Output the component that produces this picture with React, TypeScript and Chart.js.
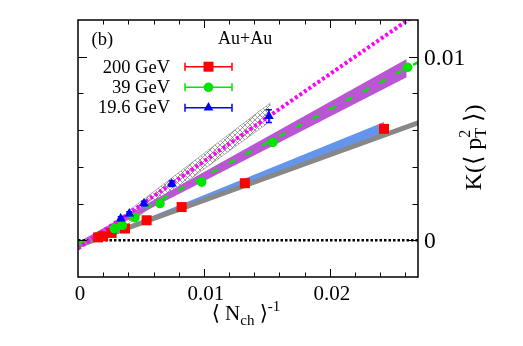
import React, { useEffect, useRef } from 'react';
import { Chart, registerables } from 'chart.js';

Chart.register(...registerables);

// ---- axis ranges & ticks ----
const X_MIN = 0;
const X_MAX = 0.027;
const Y_MIN = -0.002;
const Y_MAX = 0.012;
const X_TICKS = [0.002, 0.004, 0.006, 0.008, 0.01, 0.012, 0.014, 0.016, 0.018, 0.02, 0.022, 0.024, 0.026];
const X_MAJOR = [0, 0.01, 0.02];
const X_LABELS = ['0', '0.01', '0.02'];
const Y_TICKS = [0, 0.002, 0.004, 0.006, 0.008, 0.01];
const Y_MAJOR = [0, 0.01];
const Y_LABELS = ['0', '0.01'];

// ---- data: 200 GeV (red squares) ----
const AU200_X = [0.0016, 0.002, 0.00267, 0.00373, 0.00545, 0.00823, 0.01325, 0.0243];
const AU200_Y = [0.00016, 0.00022, 0.0004, 0.00064, 0.00109, 0.00181, 0.00311, 0.00607];
// ---- 39 GeV (green circles) ----
const AU39_X = [0.00288, 0.00352, 0.00452, 0.00651, 0.00982, 0.01548, 0.02617];
const AU39_Y = [0.00064, 0.00082, 0.00123, 0.002, 0.00317, 0.00534, 0.00942];
// ---- 19.6 GeV (blue triangles) ----
const AU196_X = [0.00339, 0.00407, 0.00524, 0.00744, 0.01516];
const AU196_Y = [0.00118, 0.00145, 0.002, 0.00308, 0.00676];
const AU196_ERR = [0.0001, 0.0001, 0.00012, 0.00015, 0.00035];

// ---- fit lines ----
const FIT200_X = [0, 0.027];
const FIT200_Y = [-0.0003, 0.0064];
const FIT39_X = [0, 0.027];
const FIT39_Y = [-0.0002, 0.0097];
const FIT196_X = [0, 0.027];
const FIT196_Y = [-0.00045, 0.01238];
const ZERO_X = [0, 0.027];
const ZERO_Y = [0, 0];

// ---- bands ----
const BAND200_X = [0.0015, 0.0243];
const BAND200_LO = [0.00007, 0.0058];
const BAND200_HI = [0.0001, 0.00645];
const BAND39_X = [0.0005, 0.0261];
const BAND39_LO = [-0.00012, 0.00888];
const BAND39_HI = [0.00009, 0.00988];
const HATCH_X = [0.004, 0.0153];
const HATCH_LO = [0.0009, 0.0065];
const HATCH_HI = [0.0016, 0.0075];

// ---- legend ----
const LEGEND_LABELS = ['200 GeV', '39 GeV', '19.6 GeV'];
const LEGEND_COLORS = ['#ff0000', '#00e600', '#0000ff'];
const LEGEND_SHAPES = ['square', 'circle', 'triangle'];

const RED = '#ff0000';
const GREEN = '#00e600';
const BLUE = '#0000ff';

const SERIF = '"Liberation Serif", "DejaVu Serif", serif';

const pts = (xs: number[], ys: number[]) => xs.map((x, i) => ({ x, y: ys[i] }));

type Seg = { t: string; size: number; dy?: number; hold?: boolean };

function drawRich(ctx: CanvasRenderingContext2D, segs: Seg[], x: number, y: number, align: 'left' | 'center' | 'right') {
  ctx.textAlign = 'left';
  ctx.textBaseline = 'alphabetic';
  let total = 0;
  let gm = 0;
  for (const s of segs) {
    ctx.font = `${s.size}px ${SERIF}`;
    gm = Math.max(gm, ctx.measureText(s.t).width);
    if (!s.hold) {
      total += gm;
      gm = 0;
    }
  }
  let cx = align === 'center' ? x - total / 2 : align === 'right' ? x - total : x;
  gm = 0;
  for (const s of segs) {
    ctx.font = `${s.size}px ${SERIF}`;
    ctx.fillText(s.t, cx, y + (s.dy || 0));
    gm = Math.max(gm, ctx.measureText(s.t).width);
    if (!s.hold) {
      cx += gm;
      gm = 0;
    }
  }
}

function drawMarker(ctx: CanvasRenderingContext2D, shape: string, x: number, y: number, color: string) {
  ctx.fillStyle = color;
  ctx.beginPath();
  if (shape === 'square') {
    ctx.rect(x - 5, y - 5, 10, 10);
  } else if (shape === 'circle') {
    ctx.arc(x, y, 4.8, 0, Math.PI * 2);
  } else {
    const r = 5.6;
    ctx.moveTo(x, y - r);
    ctx.lineTo(x + r * Math.sin((2 * Math.PI) / 3), y - r * Math.cos((2 * Math.PI) / 3));
    ctx.lineTo(x + r * Math.sin((4 * Math.PI) / 3), y - r * Math.cos((4 * Math.PI) / 3));
    ctx.closePath();
  }
  ctx.fill();
}

function makeHatch(): CanvasPattern | string {
  const c = document.createElement('canvas');
  c.width = 5;
  c.height = 5;
  const g = c.getContext('2d');
  if (!g) return 'rgba(150,150,150,0.3)';
  g.strokeStyle = 'rgba(110,110,110,0.85)';
  g.lineWidth = 0.8;
  g.beginPath();
  g.moveTo(0, 0);
  g.lineTo(5, 5);
  g.moveTo(5, 0);
  g.lineTo(0, 5);
  g.stroke();
  const p = g.createPattern(c, 'repeat');
  return p || 'rgba(150,150,150,0.3)';
}

const decorPlugin = {
  id: 'decor',
  afterDatasetsDraw(chart: any) {
    const ctx: CanvasRenderingContext2D = chart.ctx;
    const xs = chart.scales.x;
    const ys = chart.scales.y;
    // error bars for 19.6 GeV
    ctx.save();
    ctx.strokeStyle = BLUE;
    ctx.lineWidth = 1.5;
    AU196_X.forEach((xv, i) => {
      const px = xs.getPixelForValue(xv);
      const y1 = ys.getPixelForValue(AU196_Y[i] - AU196_ERR[i]);
      const y2 = ys.getPixelForValue(AU196_Y[i] + AU196_ERR[i]);
      ctx.beginPath();
      ctx.moveTo(px, y1);
      ctx.lineTo(px, y2);
      ctx.moveTo(px - 3, y1);
      ctx.lineTo(px + 3, y1);
      ctx.moveTo(px - 3, y2);
      ctx.lineTo(px + 3, y2);
      ctx.stroke();
    });
    ctx.restore();
  },
  afterDraw(chart: any) {
    const ctx: CanvasRenderingContext2D = chart.ctx;
    const xs = chart.scales.x;
    const ys = chart.scales.y;
    const a = chart.chartArea;
    ctx.save();
    // frame
    ctx.strokeStyle = '#000';
    ctx.lineWidth = 1.5;
    ctx.strokeRect(a.left, a.top, a.right - a.left, a.bottom - a.top);
    // x ticks (top & bottom, inward)
    ctx.lineWidth = 1;
    ctx.beginPath();
    X_TICKS.forEach((v) => {
      const px = Math.round(xs.getPixelForValue(v)) + 0.5;
      const len = X_MAJOR.includes(v) ? 8 : 4.5;
      ctx.moveTo(px, a.bottom);
      ctx.lineTo(px, a.bottom - len);
      ctx.moveTo(px, a.top);
      ctx.lineTo(px, a.top + len);
    });
    // y ticks (left & right, inward)
    Y_TICKS.forEach((v) => {
      const py = Math.round(ys.getPixelForValue(v)) + 0.5;
      const len = Y_MAJOR.includes(v) ? 9 : 5.5;
      ctx.moveTo(a.left, py);
      ctx.lineTo(a.left + len, py);
      ctx.moveTo(a.right, py);
      ctx.lineTo(a.right - len, py);
    });
    ctx.stroke();

    ctx.fillStyle = '#000';
    // bottom tick labels
    X_MAJOR.forEach((v, i) => {
      drawRich(ctx, [{ t: X_LABELS[i], size: 21 }], xs.getPixelForValue(v) + 2, a.bottom + 23, 'center');
    });
    // right tick labels
    Y_MAJOR.forEach((v, i) => {
      drawRich(ctx, [{ t: Y_LABELS[i], size: 23.5 }], a.right + 6, ys.getPixelForValue(v) + 8, 'left');
    });
    // x title
    drawRich(
      ctx,
      [
        { t: '\u27E8 N', size: 21 },
        { t: 'ch', size: 15, dy: 5 },
        { t: ' \u27E9', size: 21 },
        { t: '-1', size: 15, dy: -9 },
      ],
      (a.left + a.right) / 2 - 2,
      a.bottom + 43,
      'center'
    );
    // y title (rotated, on the right)
    ctx.save();
    ctx.translate(a.right + 55, (a.top + a.bottom) / 2 - 1);
    ctx.rotate(-Math.PI / 2);
    drawRich(
      ctx,
      [
        { t: 'K(\u27E8 ', size: 24 },
        { t: 'p', size: 24 },
        { t: '2', size: 16, dy: -11, hold: true },
        { t: 'T', size: 16, dy: 5 },
        { t: ' \u27E9)', size: 24 },
      ],
      0,
      8,
      'center'
    );
    ctx.restore();

    // annotations
    drawRich(ctx, [{ t: '(b)', size: 18.5 }], a.left + 13.5, 44.5, 'left');
    drawRich(ctx, [{ t: 'Au+Au', size: 18 }], 218, 43.5, 'left');

    // legend
    const rowY = [66.7, 87.3, 107.7];
    const baseY = [73.3, 93.3, 113.3];
    LEGEND_LABELS.forEach((lab, i) => {
      ctx.fillStyle = '#000';
      drawRich(ctx, [{ t: lab, size: 18.5 }], 170, baseY[i], 'right');
      const col = LEGEND_COLORS[i];
      ctx.strokeStyle = col;
      ctx.lineWidth = 1.5;
      ctx.beginPath();
      ctx.moveTo(185, rowY[i]);
      ctx.lineTo(232, rowY[i]);
      ctx.moveTo(185, rowY[i] - 4);
      ctx.lineTo(185, rowY[i] + 4);
      ctx.moveTo(232, rowY[i] - 4);
      ctx.lineTo(232, rowY[i] + 4);
      ctx.stroke();
      drawMarker(ctx, LEGEND_SHAPES[i], 208.5, rowY[i], col);
    });
    ctx.restore();
  },
};

export default function App() {
  const ref = useRef<HTMLCanvasElement | null>(null);

  useEffect(() => {
    if (!ref.current) return;
    const hatch = makeHatch();
    const chart = new Chart(ref.current, {
      type: 'line',
      data: {
        datasets: [
          // 0,1 hatched band (19.6 GeV)
          { data: pts(HATCH_X, HATCH_LO), borderColor: 'rgba(150,150,150,0.9)', borderWidth: 0.8, pointRadius: 0, fill: false, order: 12 } as any,
          { data: pts(HATCH_X, HATCH_HI), borderColor: 'rgba(150,150,150,0.9)', borderWidth: 0.8, pointRadius: 0, fill: { target: 0 }, backgroundColor: hatch, order: 11 } as any,
          // 2,3 purple band (39 GeV)
          { data: pts(BAND39_X, BAND39_LO), borderWidth: 0, borderColor: 'rgba(0,0,0,0)', pointRadius: 0, fill: false, order: 10 } as any,
          { data: pts(BAND39_X, BAND39_HI), borderWidth: 0, borderColor: 'rgba(0,0,0,0)', pointRadius: 0, fill: { target: 2 }, backgroundColor: '#ba55d3', order: 9 } as any,
          // 4,5 blue band (200 GeV)
          { data: pts(BAND200_X, BAND200_LO), borderWidth: 0, borderColor: 'rgba(0,0,0,0)', pointRadius: 0, fill: false, order: 8 } as any,
          { data: pts(BAND200_X, BAND200_HI), borderWidth: 0, borderColor: 'rgba(0,0,0,0)', pointRadius: 0, fill: { target: 4 }, backgroundColor: '#6495ed', order: 7 } as any,
          // 6 zero line
          { data: pts(ZERO_X, ZERO_Y), borderColor: '#000', borderWidth: 2.5, borderDash: [2.5, 2], pointRadius: 0, fill: false, order: 6 } as any,
          // 7 grey fit (200)
          { data: pts(FIT200_X, FIT200_Y), borderColor: '#888888', borderWidth: 5, pointRadius: 0, fill: false, order: 5 } as any,
          // 8 green dashed fit (39)
          { data: pts(FIT39_X, FIT39_Y), borderColor: GREEN, borderWidth: 2.5, borderDash: [7, 12], pointRadius: 0, fill: false, order: 4 } as any,
          // 9 magenta dotted fit (19.6)
          { data: pts(FIT196_X, FIT196_Y), borderColor: '#ff00ff', borderWidth: 4, borderDash: [3, 2.5], pointRadius: 0, fill: false, order: 3 } as any,
          // 10-12 markers
          { data: pts(AU200_X, AU200_Y), showLine: false, pointStyle: 'rect', pointRadius: 7.07, backgroundColor: RED, borderColor: RED, borderWidth: 0, order: 2 } as any,
          { data: pts(AU39_X, AU39_Y), showLine: false, pointStyle: 'circle', pointRadius: 4.8, backgroundColor: GREEN, borderColor: GREEN, borderWidth: 0, order: 1 } as any,
          { data: pts(AU196_X, AU196_Y), showLine: false, pointStyle: 'triangle', pointRadius: 5.6, backgroundColor: BLUE, borderColor: BLUE, borderWidth: 0, order: 0 } as any,
        ],
      },
      options: {
        animation: false,
        responsive: false,
        devicePixelRatio: 1,
        layout: { padding: { left: 78, right: 105, top: 20, bottom: 69 } },
        scales: {
          x: { type: 'linear', min: X_MIN, max: X_MAX, display: false },
          y: { type: 'linear', min: Y_MIN, max: Y_MAX, display: false },
        },
        plugins: {
          legend: { display: false },
          tooltip: { enabled: false },
        },
        elements: { line: { tension: 0 } },
      },
      plugins: [decorPlugin],
    } as any);
    return () => chart.destroy();
  }, []);

  return (
    <div style={{ position: 'fixed', left: 0, top: 0, width: 523, height: 346, background: '#fff' }}>
      <canvas ref={ref} width={523} height={346} style={{ display: 'block' }} />
    </div>
  );
}
